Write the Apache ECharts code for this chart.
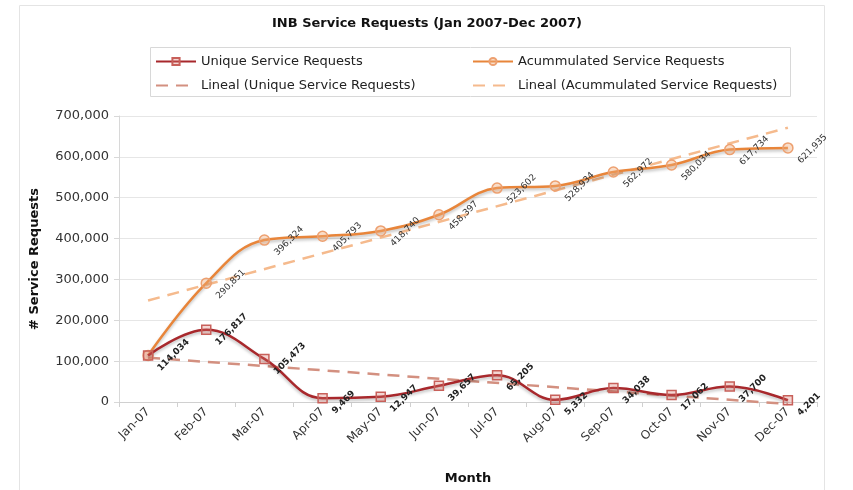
<!DOCTYPE html>
<html>
<head>
<meta charset="utf-8">
<script src="https://cdn.jsdelivr.net/npm/echarts@6/dist/echarts.min.js"></script>
<style>html,body{margin:0;padding:0;background:#fff}#c{width:853px;height:490px}</style>
</head>
<body>
<div id="c"></div>
<script>
const months = ['Jan-07','Feb-07','Mar-07','Apr-07','May-07','Jun-07','Jul-07','Aug-07','Sep-07','Oct-07','Nov-07','Dec-07'];
const uniqueRequests = [114034,176817,105473,9469,12947,39657,65205,5332,34038,17062,37700,4201];
const accumulatedRequests = [114034,290851,396324,405793,418740,458397,523602,528934,562972,580034,617734,621935];
const uniqueTrend = [108600,'-','-','-','-','-','-','-','-','-','-',-5000];
const accumulatedTrend = [248500,'-','-','-','-','-','-','-','-','-','-',671400];
const yTicks = [0,100000,200000,300000,400000,500000,600000,700000];

const fmt = v => Number(v).toLocaleString('en-US');
const FONT = 'DejaVu Sans';
const chart = echarts.init(document.getElementById('c'));
const shadow = {shadowColor:'rgba(0,0,0,0.25)', shadowBlur:3, shadowOffsetY:2};

chart.setOption({
  animation:false,
  textStyle:{fontFamily:FONT},
  title:{text:'INB Service Requests (Jan 2007-Dec 2007)', left:422, textAlign:'center', top:12,
    textStyle:{fontFamily:FONT, fontSize:13, fontWeight:'bold', color:'#111'}},
  graphic:[
    {type:'rect', shape:{x:19.5,y:5.5,width:805,height:500}, style:{fill:'none',stroke:'#e4e4e4',lineWidth:1}, z:-1},
    {type:'rect', shape:{x:150.5,y:47.5,width:640,height:49}, style:{fill:'none',stroke:'#d8d8d8',lineWidth:1}, z:-1}
  ],
  legend:[
    {data:['Unique Service Requests',{name:'Lineal (Unique Service Requests)', itemStyle:{opacity:0}}], orient:'vertical', left:150, top:50, itemWidth:40, itemHeight:9, itemGap:11,
      textStyle:{fontFamily:FONT, fontSize:13, color:'#222'}},
    {data:['Acummulated Service Requests',{name:'Lineal (Acummulated Service Requests)', itemStyle:{opacity:0}}], orient:'vertical', left:467, top:50, itemWidth:40, itemHeight:9, itemGap:11,
      textStyle:{fontFamily:FONT, fontSize:13, color:'#222'}}
  ],
  grid:{left:119, right:36, top:116, bottom:87},
  xAxis:{type:'category', data:months, boundaryGap:true,
    name:'Month', nameLocation:'middle', nameGap:70, nameTextStyle:{fontFamily:FONT, fontSize:13, fontWeight:'bold', color:'#111'},
    axisLine:{lineStyle:{color:'#d0d0d0'}}, axisTick:{show:true, length:5, lineStyle:{color:'#d0d0d0'}},
    axisLabel:{rotate:45, fontSize:12, color:'#333', margin:8, interval:0}},
  yAxis:{type:'value', min:yTicks[0], max:yTicks[yTicks.length-1], interval:100000,
    name:'# Service Requests', nameLocation:'middle', nameGap:78, nameTextStyle:{fontFamily:FONT, fontSize:13, fontWeight:'bold', color:'#111'},
    axisLine:{show:true, lineStyle:{color:'#d8d8d8'}}, axisTick:{show:true, length:5, lineStyle:{color:'#d8d8d8'}},
    splitLine:{lineStyle:{color:'#e6e6e6'}},
    axisLabel:{fontSize:13, color:'#333', margin:10, formatter:v=>fmt(v)}},
  series:[
    {name:'Lineal (Unique Service Requests)', type:'line', data:uniqueTrend, connectNulls:true, symbol:'none', clip:false, z:1,
      lineStyle:{color:'#d39080', width:2.5, type:[12,8]}, itemStyle:{color:'#d39080'}},
    {name:'Lineal (Acummulated Service Requests)', type:'line', data:accumulatedTrend, connectNulls:true, symbol:'none', z:1,
      lineStyle:{color:'#f5ba8d', width:2.5, type:[12,8]}, itemStyle:{color:'#f5ba8d'}},
    {name:'Acummulated Service Requests', type:'line', data:accumulatedRequests, smooth:0.4, symbol:'circle', symbolSize:10, z:3,
      lineStyle:Object.assign({color:'#e8853a', width:2.5}, shadow),
      itemStyle:{color:'rgba(240,170,120,0.4)', borderColor:'#eda070', borderWidth:1.5},
      label:{show:true, position:'right', distance:0, rotate:45, offset:[-6,14], fontSize:9, color:'#333', formatter:p=>p.dataIndex===0?'':fmt(p.value)}},
    {name:'Unique Service Requests', type:'line', data:uniqueRequests, smooth:0.4, symbol:'rect', symbolSize:9, z:4,
      lineStyle:Object.assign({color:'#a8282c', width:2.5}, shadow),
      itemStyle:{color:'rgba(220,120,110,0.3)', borderColor:'#c8605a', borderWidth:1.5},
      label:{show:true, position:'right', distance:0, rotate:45, offset:[-6,14], fontSize:9, fontWeight:'bold', color:'#222', formatter:p=>fmt(p.value)}}
  ]
});
</script>
</body>
</html>
